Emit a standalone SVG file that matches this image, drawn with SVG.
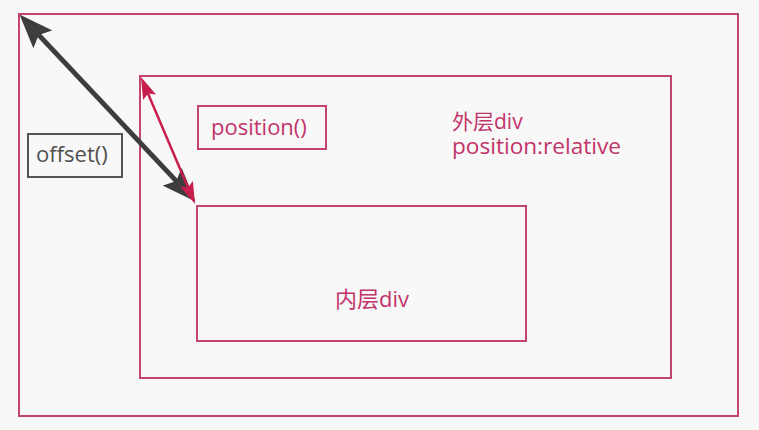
<svg xmlns="http://www.w3.org/2000/svg" width="759" height="430" viewBox="0 0 759 430">
  <style>
    .box { fill: none; stroke: #c3466c; stroke-width: 2; }
    .gbox { fill: none; stroke: #555555; stroke-width: 2; }
    .lbl { font-family: "Open Sans", "Noto Sans CJK SC", sans-serif; font-size: 22px; fill: #c2336a; }
    .lbl2 { font-family: "Open Sans", "Noto Sans CJK SC", sans-serif; font-size: 21px; fill: #c2336a; }
    .glbl { font-family: "Open Sans", sans-serif; font-size: 22px; fill: #505050; }
  </style>
  <defs>
    <marker id="headDark" viewBox="0 0 34 26" refX="26" refY="13" markerWidth="34" markerHeight="26" markerUnits="userSpaceOnUse" orient="auto-start-reverse">
      <path d="M0,0 L34,13 L0,26 L6,13 z" fill="#3d3d3d"/>
    </marker>
    <marker id="headRed" viewBox="0 0 22 14" refX="16" refY="7" markerWidth="22" markerHeight="14" markerUnits="userSpaceOnUse" orient="auto-start-reverse">
      <path d="M0,0 L22,7 L0,14 L4,7 z" fill="#c81e4e"/>
    </marker>
  </defs>
  <rect x="0" y="0" width="759" height="430" fill="#f8f8f8"/>

  <g id="outer-page">
    <rect class="box" x="19" y="14" width="719" height="402"/>
  </g>
  <g id="outer-div">
    <rect class="box" x="140" y="76" width="531" height="302"/>
    <text class="lbl2" x="452" y="129">外层div</text>
    <text class="lbl2" x="452" y="154" textLength="169" lengthAdjust="spacingAndGlyphs">position:relative</text>
  </g>
  <g id="inner-div">
    <rect class="box" x="197" y="206" width="329" height="135"/>
    <text class="lbl" x="335" y="307">内层div</text>
  </g>
  <g id="position-label">
    <rect class="box" x="198" y="106" width="128" height="43"/>
    <text class="lbl" x="211" y="135">position()</text>
  </g>
  <g id="offset-label">
    <rect class="gbox" x="28" y="134" width="94" height="43"/>
    <text class="glbl" x="36" y="162">offset()</text>
  </g>

  <g id="connectors">
    <line x1="25" y1="20.4" x2="190" y2="195.6" stroke="#3d3d3d" stroke-width="5" marker-start="url(#headDark)" marker-end="url(#headDark)"/>
    <line x1="143.3" y1="82.5" x2="192.7" y2="198.5" stroke="#c81e4e" stroke-width="2.5" marker-start="url(#headRed)" marker-end="url(#headRed)"/>
  </g>
</svg>
